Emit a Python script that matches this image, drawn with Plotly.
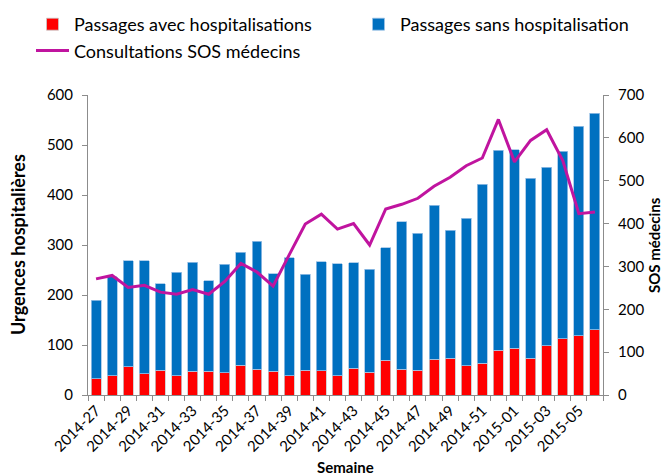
import plotly.graph_objects as go

# weeks shown on the x axis
semaines = [f"2014-{w}" for w in range(27, 53)] + [f"2015-{w:02d}" for w in range(1, 7)]

# passages aux urgences (stacked)
avec_hospit = [33, 39, 57, 43, 50, 39, 48, 48, 45, 60,
               52, 48, 39, 50, 49, 39, 54, 46, 70, 52,
               50, 72, 74, 59, 64, 90, 94, 74, 99, 113, 119, 131]
total_passages = [190, 237, 269, 269, 223, 246, 266, 229, 262, 286,
                  308, 243, 275, 242, 267, 263, 265, 252, 295, 347,
                  324, 380, 330, 354, 422, 490, 491, 434, 456, 488, 538, 564]
sans_hospit = [t - a for t, a in zip(total_passages, avec_hospit)]

# consultations SOS médecins (right axis)
sos_medecins = [271, 279, 251, 256, 240, 235, 246, 235, 265, 307,
                287, 254, 327, 399, 422, 387, 400, 350, 434, 445,
                459, 487, 508, 535, 553, 643, 544, 594, 619, 547, 423, 427]

FONT = "Lato"
AXIS_GREY = "#8c8c8c"

# the page adds an 8px body margin, so the figure is 8px smaller than the window
W, H = 663, 467
ML, MR, MT, MB = 80, 68, 87, 80
PW, PH = W - ML - MR, H - MT - MB

fig = go.Figure()

fig.add_trace(go.Bar(
    x=semaines, y=avec_hospit, name="Passages avec hospitalisations",
    marker=dict(color="#FF0000", line=dict(color="#c9c9c9", width=0.8)),
    legend="legend",
))
fig.add_trace(go.Bar(
    x=semaines, y=sans_hospit, name="Passages sans hospitalisation",
    marker=dict(color="#0070C0", line=dict(color="#9dc3e6", width=0.8)),
    legend="legend2",
))
fig.add_trace(go.Scatter(
    x=semaines, y=sos_medecins, name="Consultations SOS médecins",
    mode="lines", line=dict(color="#C0149F", width=3), yaxis="y2",
    legend="legend",
))

legend_common = dict(
    orientation="v",
    traceorder="normal",
    xanchor="left",
    yanchor="top",
    xref="container",
    yref="paper",
    y=1 + (MT + 2) / PH,
    itemwidth=33,
    font=dict(size=18),
    tracegroupgap=0,
    bgcolor="rgba(0,0,0,0)",
)

axis_common = dict(
    ticks="outside",
    ticklen=5,
    tickcolor=AXIS_GREY,
    showline=True,
    linecolor=AXIS_GREY,
    showgrid=False,
    zeroline=False,
    automargin=False,
)

fig.update_layout(
    width=W,
    height=H,
    barmode="stack",
    bargap=0.38,
    plot_bgcolor="white",
    paper_bgcolor="white",
    font=dict(family=FONT, size=15, color="black"),
    margin=dict(l=ML, r=MR, t=MT, b=MB, autoexpand=False),
    legend=dict(legend_common, x=23 / W),
    legend2=dict(legend_common, x=349 / W),
    xaxis=dict(
        axis_common,
        type="category",
        tickmode="array",
        tickvals=semaines,
        ticktext=[s if i % 2 == 0 else "" for i, s in enumerate(semaines)],
        tickangle=-45,
        tickson="boundaries",
        tickfont=dict(size=15),
    ),
    yaxis=dict(axis_common, range=[0, 600], dtick=100, ticklabelstandoff=6),
    yaxis2=dict(
        axis_common,
        range=[0, 700],
        dtick=100,
        overlaying="y",
        side="right",
        ticklabelstandoff=6,
    ),
)

# axis titles
title_common = dict(
    xref="paper", yref="paper", yanchor="middle", showarrow=False,
)
fig.add_annotation(
    title_common, text="<b>Semaine</b>", xanchor="center",
    x=0.5, y=-72 / PH, font=dict(size=15),
)
fig.add_annotation(
    title_common, text="<b>Urgences hospitalières</b>", xanchor="center",
    x=(10 - ML) / PW, y=0.5, textangle=-90, font=dict(size=18),
)
fig.add_annotation(
    title_common, text="<b>SOS médecins</b>", xanchor="right",
    x=(657 - ML) / PW, y=0.5, textangle=-90, font=dict(size=15),
)

fig.write_html("out.html")
